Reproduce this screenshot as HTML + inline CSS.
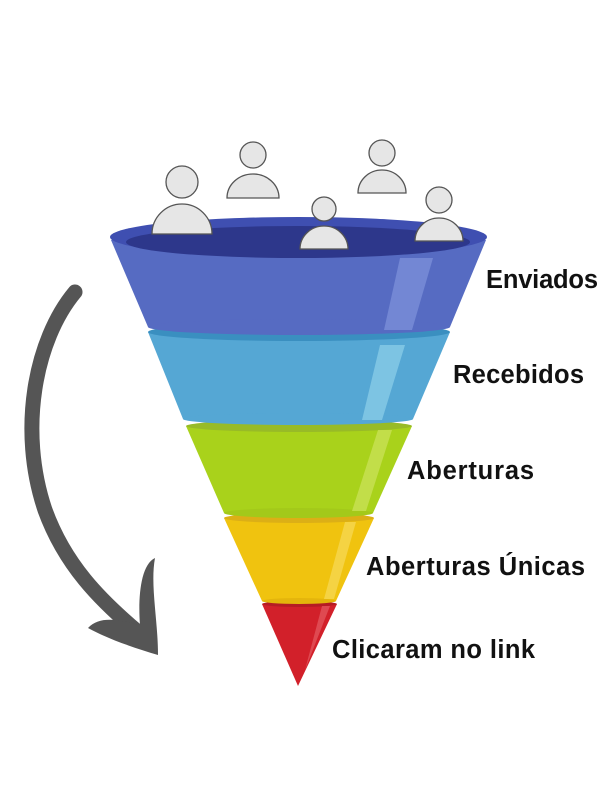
<!DOCTYPE html>
<html><head><style>body{margin:0;background:#fff}svg{display:block}text{font-family:"Liberation Sans",sans-serif;font-weight:bold;font-size:25.5px;fill:#111}</style></head><body>
<svg width="615" height="800" viewBox="0 0 615 800">
<path d="M75,292 C35,340 18,430 45,510 C65,565 100,600 138,632" fill="none" stroke="#555" stroke-width="15" stroke-linecap="round"/>
<path d="M88,628 C110,640 135,648 158,655 C158,620 150,585 155,558 C140,565 138,600 140,625 C120,620 100,615 88,628Z" fill="#555"/>
<path d="M262,604 L337,604 L298,686Z" fill="#d2202a"/>
<ellipse cx="299.5" cy="604" rx="37.5" ry="3" fill="#b51c24"/>
<path d="M322,606 L330,606 L305,670Z" fill="#e8666c" opacity=".6"/>
<path d="M224,518 L374,518 L336,601 L262,601Z" fill="#f0c30f"/>
<ellipse cx="299" cy="601" rx="37" ry="3" fill="#e4b50c"/>
<ellipse cx="299" cy="518" rx="75" ry="5" fill="#dcaf16"/>
<path d="M345,522 L356,522 L334,599 L324,599Z" fill="#f6da5a" opacity=".7"/>
<path d="M186,426 L412,426 L373,513 L224,513Z" fill="#a9d21b"/>
<ellipse cx="298.5" cy="513" rx="74.5" ry="5" fill="#a3c91a"/>
<ellipse cx="299" cy="426" rx="113" ry="6" fill="#98bb27"/>
<path d="M378,430 L392,430 L366,511 L352,511Z" fill="#cbe25a" opacity=".75"/>
<path d="M148,332 L450,332 L413,419 L183,419Z" fill="#55a7d4"/>
<ellipse cx="298" cy="419" rx="115" ry="6" fill="#55a7d4"/>
<ellipse cx="299" cy="332" rx="151" ry="9" fill="#3a8fc0"/>
<path d="M380,345 L405,345 L382,420 L362,420Z" fill="#8fd0ea" opacity=".7"/>
<path d="M111,240 L486,240 L450,327 L148,327Z" fill="#566bc2"/>
<ellipse cx="299" cy="327" rx="151" ry="8" fill="#566bc2"/>
<ellipse cx="298.5" cy="237" rx="188.5" ry="20" fill="#3f4fb1"/>
<ellipse cx="298" cy="242" rx="172" ry="16" fill="#2d378b"/>
<path d="M400,258 L433,258 L412,330 L384,330Z" fill="#7b8ed8" opacity=".8"/>
<g fill="#e6e6e6" stroke="#555" stroke-width="1.3">
<circle cx="182" cy="182" r="16"/><path d="M152,234 A30,30 0 0 1 212,234Z"/>
<circle cx="253" cy="155" r="13"/><path d="M227,198 A26,24 0 0 1 279,198Z"/>
<circle cx="324" cy="209" r="12"/><path d="M300,249 A24,23 0 0 1 348,249Z"/>
<circle cx="382" cy="153" r="13"/><path d="M358,193 A24,23 0 0 1 406,193Z"/>
<circle cx="439" cy="200" r="13"/><path d="M415,241 A24,23 0 0 1 463,241Z"/>
</g>
<text x="486" y="288" textLength="112">Enviados</text>
<text x="453" y="383" textLength="131">Recebidos</text>
<text x="407" y="479" textLength="127">Aberturas</text>
<text x="366" y="575" textLength="219">Aberturas Únicas</text>
<text x="332" y="658" textLength="203">Clicaram no link</text>
</svg>
</body></html>
